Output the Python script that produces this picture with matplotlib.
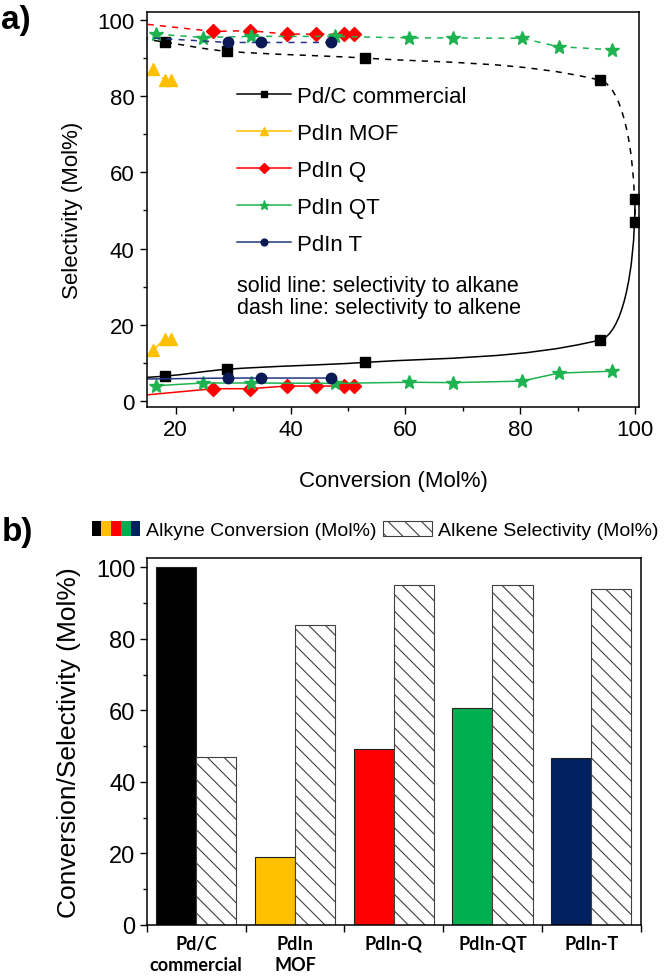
import matplotlib
matplotlib.use("Agg")
import matplotlib.pyplot as plt
import numpy as np
from matplotlib.path import Path
from matplotlib.patches import PathPatch, Rectangle
from matplotlib.lines import Line2D
from matplotlib.legend_handler import HandlerTuple
from matplotlib.ticker import MultipleLocator, FixedLocator

plt.rcParams['font.family'] = ['Liberation Sans', 'DejaVu Sans']
plt.rcParams['hatch.linewidth'] = 0.8
plt.rcParams['hatch.color'] = '#404040'

# ---- panel a: selectivity vs conversion (points left of 15 % fall outside the axis)
pdc_conv = [12.0, 18.1, 28.9, 52.9, 93.9, 100.0]
pdc_alkene = [95.6, 94.2, 91.8, 90.0, 84.2, 47.0]
pdc_alkane = [5.9, 6.5, 8.3, 10.1, 16.0, 53.0]

mof_conv = [16.1, 18.1, 19.1]
mof_alkene = [87.1, 84.2, 84.2]
mof_alkane = [13.4, 16.3, 16.3]

q_conv = [13.0, 26.5, 32.9, 39.3, 44.5, 49.3, 51.1]
q_alkene = [99.2, 97.0, 97.2, 96.3, 96.3, 96.3, 96.3]
q_alkane = [1.3, 3.2, 3.2, 3.9, 3.9, 3.9, 3.9]

qt_conv = [16.6, 24.8, 33.2, 47.7, 60.6, 68.3, 80.3, 86.7, 96.0]
qt_alkene = [96.3, 95.4, 95.7, 95.7, 95.3, 95.3, 95.2, 93.0, 92.2]
qt_alkane = [4.0, 4.7, 4.7, 4.6, 4.9, 4.8, 5.2, 7.3, 7.8]

t_conv = [12.0, 29.1, 34.9, 47.0]
t_alkene = [95.6, 94.1, 94.1, 94.1]
t_alkane = [5.7, 6.0, 6.0, 6.0]

# ---- panel b: bars
catalysts = ['Pd/C\ncommercial', 'PdIn\nMOF', 'PdIn-Q', 'PdIn-QT', 'PdIn-T']
conversion = [100.0, 19.0, 49.2, 60.7, 46.8]
alkene_sel = [47.0, 84.0, 95.0, 95.0, 94.0]

C_BLACK = 'black'
C_YEL = '#FFC000'
C_RED = '#FF0000'
C_GRN = '#1DB350'
C_NAVY = '#233580'
BAR_COLS = ['black', '#FFC000', '#FF0000', '#00B050', '#002060']

DASH = (0, (4, 4))


def smooth_path(x, y):
    """curva suave que pasa por los puntos; el ultimo tramo llega vertical"""
    x = np.asarray(x, float)
    y = np.asarray(y, float)
    h = np.diff(x)
    d = np.diff(y) / h
    m = np.zeros_like(x)
    for k in range(1, len(x) - 1):
        if d[k - 1] * d[k] > 0:
            w1 = 2 * h[k] + h[k - 1]
            w2 = h[k] + 2 * h[k - 1]
            m[k] = (w1 + w2) / (w1 / d[k - 1] + w2 / d[k])
    m[0] = d[0]
    verts = [(x[0], y[0])]
    codes = [Path.MOVETO]
    n = len(x) - 1
    for k in range(n):
        c1 = (x[k] + h[k] / 3, y[k] + m[k] * h[k] / 3)
        if k == n - 1:
            c1 = (x[k] + h[k] * 0.6, y[k] + m[k] * h[k] * 0.6)
            c2 = (x[k + 1], y[k + 1] + (y[k] - y[k + 1]) * 0.55)
        else:
            c2 = (x[k + 1] - h[k] / 3, y[k + 1] - m[k + 1] * h[k] / 3)
        verts += [c1, c2, (x[k + 1], y[k + 1])]
        codes += [Path.CURVE4] * 3
    return Path(verts, codes)


fig = plt.figure(figsize=(6.66, 9.79), dpi=100)

# ================= a) =================
ax = fig.add_axes([147 / 666, 1 - 408 / 979, 492 / 666, 395 / 979])

ax.add_patch(PathPatch(smooth_path(pdc_conv, pdc_alkene), fill=False,
                       edgecolor=C_BLACK, lw=1.1, linestyle=DASH))
ax.add_patch(PathPatch(smooth_path(pdc_conv, pdc_alkane), fill=False,
                       edgecolor=C_BLACK, lw=1.1))
ax.plot(pdc_conv, pdc_alkene, ls='none', marker='s', ms=6.5, color=C_BLACK)
ax.plot(pdc_conv, pdc_alkane, ls='none', marker='s', ms=6.5, color=C_BLACK)

series = [
    (mof_conv, mof_alkene, mof_alkane, C_YEL, '^', 9, C_YEL),
    (q_conv, q_alkene, q_alkane, C_RED, 'D', 7, C_RED),
    (qt_conv, qt_alkene, qt_alkane, C_GRN, '*', 10, C_GRN),
    (t_conv, t_alkene, t_alkane, C_NAVY, 'o', 7.5, '#0B1A55'),
]
for cx, ya, yk, col, mk, ms, mcol in series:
    ax.plot(cx, ya, color=col, lw=1.1, ls=DASH, marker=mk, ms=ms,
            mfc=mcol, mec=mcol)
    ax.plot(cx, yk, color=col, lw=1.1, ls='-', marker=mk, ms=ms,
            mfc=mcol, mec=mcol)

ax.set_xlim(15, 100.7)
ax.set_ylim(-1.6, 102.1)
ax.xaxis.set_major_locator(MultipleLocator(20))
ax.xaxis.set_minor_locator(MultipleLocator(10))
ax.yaxis.set_major_locator(MultipleLocator(20))
ax.yaxis.set_minor_locator(MultipleLocator(10))
ax.tick_params(which='both', direction='out', top=False, right=False,
               labelsize=16, width=1)
ax.tick_params(which='major', length=5, pad=4)
ax.tick_params(which='minor', length=3)
for s in ax.spines.values():
    s.set_linewidth(1.1)
ax.set_xlabel('Conversion (Mol%)', fontsize=16)
ax.set_ylabel('Selectivity (Mol%)', fontsize=16)
ax.xaxis.set_label_coords(0.5, -0.16)
ax.yaxis.set_label_coords(-0.13, 0.5)

handles = [
    Line2D([], [], color=C_BLACK, lw=1.1, marker='s', ms=6),
    Line2D([], [], color=C_YEL, lw=1.1, marker='^', ms=8),
    Line2D([], [], color=C_RED, lw=1.1, marker='D', ms=6.5),
    Line2D([], [], color=C_GRN, lw=1.1, marker='*', ms=9),
    Line2D([], [], color=C_NAVY, lw=1.1, marker='o', ms=6.5, mfc='#0B1A55', mec='#0B1A55'),
]
labels = ['Pd/C commercial', 'PdIn MOF', 'PdIn Q', 'PdIn QT', 'PdIn T']
ax.legend(handles, labels, loc='upper left', bbox_to_anchor=(0.152, 0.852),
          frameon=False, fontsize=16, handlelength=2.4, handletextpad=0.3,
          labelspacing=0.72, markerscale=0.75, borderpad=0.2)

ax.text(0.183, 0.307, 'solid line: selectivity to alkane', transform=ax.transAxes,
        fontsize=15.5, va='center', ha='left')
ax.text(0.183, 0.251, 'dash line: selectivity to alkene', transform=ax.transAxes,
        fontsize=15.5, va='center', ha='left')

fig.text(0.002, 1 - 20 / 979, 'a)', fontsize=24, fontweight='bold', va='center')

# ================= b) =================
bx = fig.add_axes([146.7 / 666, 1 - 926 / 979, (641 - 146.7) / 666, 367 / 979])
pos = np.arange(len(catalysts))
bx.bar(pos + 0.295, conversion, width=0.405, color=BAR_COLS,
       edgecolor='#202020', linewidth=0.8)
bx.bar(pos + 0.7, alkene_sel, width=0.405, color='white', hatch='\\\\',
       edgecolor='#404040', linewidth=0.8)

bx.set_xlim(0, len(catalysts))
bx.set_ylim(0, 102.6)
bx.xaxis.set_major_locator(FixedLocator(list(range(len(catalysts) + 1))))
bx.xaxis.set_major_formatter(plt.NullFormatter())
bx.xaxis.set_minor_locator(FixedLocator(list(pos + 0.5)))
bx.set_xticklabels(catalysts, minor=True, fontfamily='Lato', fontweight='bold',
                   fontsize=13, linespacing=1.3)
bx.yaxis.set_major_locator(MultipleLocator(20))
bx.yaxis.set_minor_locator(MultipleLocator(10))
bx.tick_params(axis='x', which='major', direction='out', length=5, width=1, top=False)
bx.tick_params(axis='x', which='minor', length=0, pad=7, top=False)
bx.tick_params(axis='y', which='both', direction='out', right=False,
               labelsize=17, width=1)
bx.tick_params(axis='y', which='major', length=5, pad=3)
bx.tick_params(axis='y', which='minor', length=3)
for s in bx.spines.values():
    s.set_linewidth(1.1)
bx.set_ylabel('Conversion/Selectivity (Mol%)', fontsize=19)
bx.yaxis.set_label_coords(-0.133, 0.5)

stripes = tuple(Rectangle((0, 0), 1, 1, facecolor=c, edgecolor='none') for c in BAR_COLS)
hatch_patch = Rectangle((0, 0), 1, 1, facecolor='white', edgecolor='#404040',
                        hatch='\\\\', linewidth=0.8)
fig.legend([stripes, hatch_patch],
           ['Alkyne Conversion (Mol%)', 'Alkene Selectivity (Mol%)'],
           handler_map={tuple: HandlerTuple(ndivide=None, pad=0)},
           loc='center left', bbox_to_anchor=(78 / 666, 1 - 531 / 979), ncol=2,
           frameon=False, fontsize=14, handlelength=2.5, handleheight=0.85,
           handletextpad=0.3, columnspacing=0.35, borderpad=0.2)

fig.text(0.002, 1 - 532 / 979, 'b)', fontsize=24, fontweight='bold', va='center')

fig.savefig('out.png', dpi=100)
